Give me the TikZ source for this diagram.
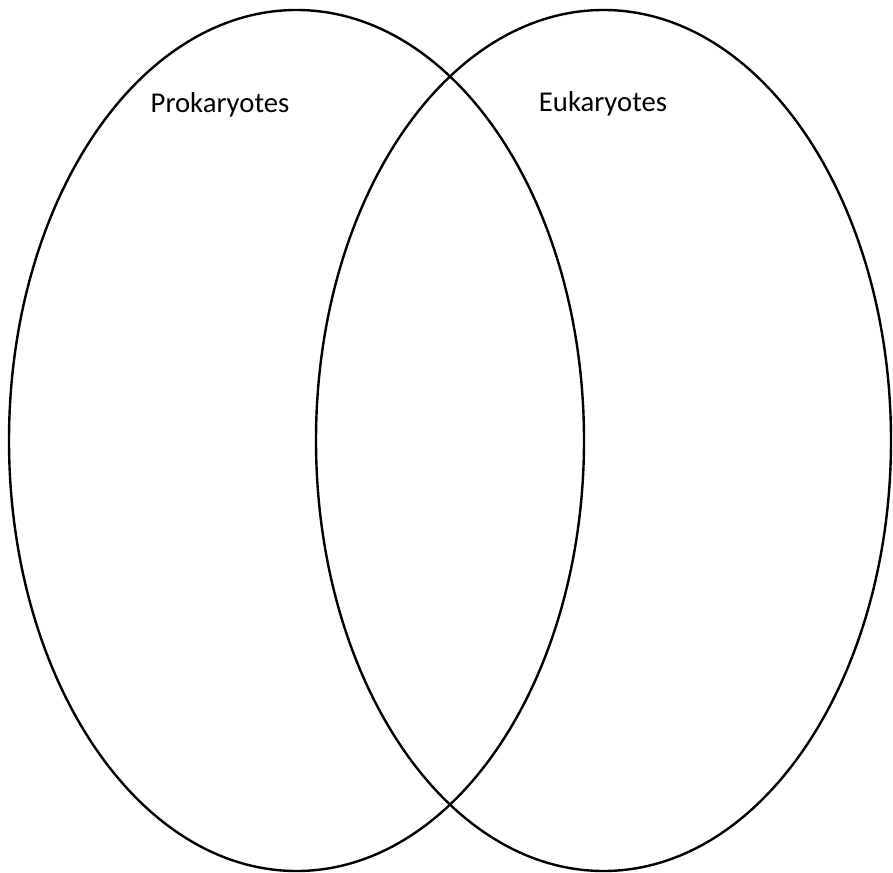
\documentclass[tikz,border=0pt]{standalone}
\usepackage{fontspec}
\setmainfont{Carlito}
\begin{document}
\begin{tikzpicture}[x=1pt,y=-1pt,
  venn/.style={draw=black,line width=2.4pt},
  lbl/.style={font=\fontsize{28.7}{34}\selectfont,inner sep=0pt}]
\useasboundingbox (0,0) rectangle (893,872);
\draw[venn] (296.5,440.5) ellipse [x radius=287.5,y radius=430.5];
\draw[venn] (603.5,440.5) ellipse [x radius=287.5,y radius=430.5];
\node[lbl] (pro) at (220,105) {Prokaryotes};
\node[lbl] (euk) at (603,104) {Eukaryotes};
\end{tikzpicture}
\end{document}
